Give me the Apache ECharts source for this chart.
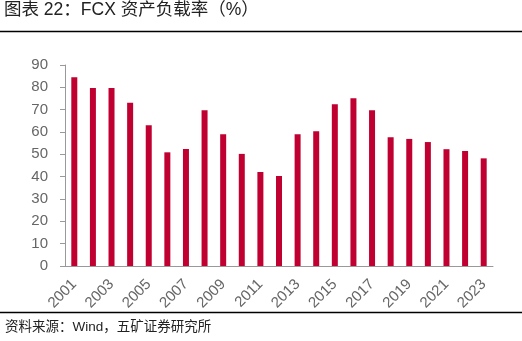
<!DOCTYPE html>
<html><head><meta charset="utf-8">
<script src="https://cdn.jsdelivr.net/npm/echarts@6/dist/echarts.min.js"></script>
<style>html,body{margin:0;padding:0;background:#fff}#c{width:522px;height:341px}</style>
</head><body><div id="c"></div>
<script>
const years = ['2001','2002','2003','2004','2005','2006','2007','2008','2009','2010','2011','2012','2013','2014','2015','2016','2017','2018','2019','2020','2021','2022','2023'];
const debtRatio = [84.5,79.7,79.7,73.1,63.0,50.9,52.4,69.7,59.0,50.2,42.1,40.3,59.0,60.3,72.4,75.1,69.7,57.6,56.9,55.5,52.3,51.5,48.2];
const titleText = '图表 22：FCX 资产负载率（%）';
const sourceText = '资料来源：Wind，五矿证券研究所';
const font = '"Liberation Sans", "Noto Sans CJK SC", sans-serif';
const chart = echarts.init(document.getElementById('c'));
chart.setOption({
  animation: false,
  textStyle: {fontFamily: font},
  grid: {left: 65, right: 29, top: 65, bottom: 75},
  graphic: [
    {type: 'text', left: 4, top: 1, style: {text: titleText, font: '17.5px ' + font, fill: '#222'}},
    {type: 'line', shape: {x1: 0, y1: 31.5, x2: 522, y2: 31.5}, style: {stroke: '#000', lineWidth: 1.5}},
    {type: 'line', shape: {x1: 0, y1: 312.5, x2: 522, y2: 312.5}, style: {stroke: '#000', lineWidth: 1.5}},
    {type: 'text', left: 5, top: 321, style: {text: sourceText, font: '13.5px ' + font, fill: '#222'}}
  ],
  xAxis: {
    type: 'category', data: years,
    axisLine: {lineStyle: {color: '#999'}},
    axisTick: {interval: 1, length: 5, lineStyle: {color: '#999'}},
    axisLabel: {interval: 1, rotate: 45, color: '#666', fontSize: 15, margin: 16}
  },
  yAxis: {
    type: 'value', min: 0, max: 90, interval: 10,
    axisLine: {show: true, lineStyle: {color: '#999'}},
    axisTick: {show: true, length: 5, lineStyle: {color: '#999'}},
    splitLine: {show: false},
    axisLabel: {color: '#666', fontSize: 15, margin: 17}
  },
  series: [{type: 'bar', data: debtRatio, barWidth: 6, itemStyle: {color: '#C00030'}}]
});
</script></body></html>
